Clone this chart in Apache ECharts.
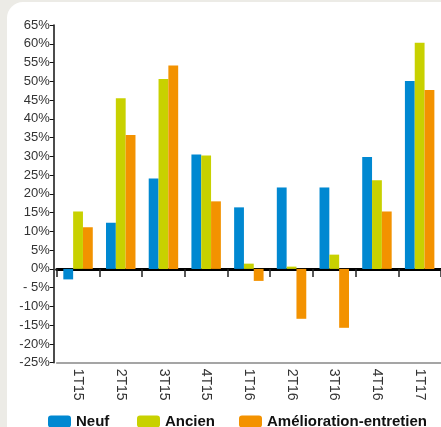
<!DOCTYPE html>
<html>
<head>
<meta charset="utf-8">
<script src="https://cdn.jsdelivr.net/npm/echarts@6/dist/echarts.min.js"></script>
<style>
  html, body { margin: 0; padding: 0; background: #ecebe6; overflow: hidden; }
  .panel { position: absolute; left: 7px; top: 2px; width: 460px; height: 450px; background: #fff; border-radius: 16px; }
  #chart { position: absolute; left: 0; top: 0; width: 441px; height: 427px; }
</style>
</head>
<body>
<div class="panel"></div>
<div id="chart"></div>
<script>
  // quarters
  const categories = ['1T15', '2T15', '3T15', '4T15', '1T16', '2T16', '3T16', '4T16', '1T17']
  const neuf = [-2.8, 12.3, 24.1, 30.5, 16.4, 21.7, 21.7, 29.8, 50.1]
  const ancien = [15.3, 45.5, 50.6, 30.2, 1.4, 0.6, 3.8, 23.6, 60.3]
  const amelioration = [11.1, 35.7, 54.2, 18.0, -3.2, -13.3, -15.7, 15.3, 47.7]
  const seriesNames = ['Neuf', 'Ancien', 'Amélioration-entretien']
  const colors = ['#0088d1', '#c8d100', '#f39200']

  const chart = echarts.init(document.getElementById('chart'))
  const font = '"Liberation Sans", Arial, sans-serif'

  const legendPos = [48, 137, 239]
  const option = {
    animation: false,
    backgroundColor: 'transparent',
    grid: { left: 56.7, top: 25, width: 387, height: 337.7 },
    legend: seriesNames.map((name, i) => ({
      data: [name],
      left: legendPos[i],
      top: 414,
      padding: 0,
      itemWidth: 23,
      itemHeight: 12,
      textStyle: { fontFamily: font, fontWeight: 'bold', fontSize: 15, lineHeight: 14, color: '#111' }
    })),
    xAxis: [
      {
        type: 'category',
        data: categories,
        axisLine: { onZero: true, lineStyle: { color: '#000', width: 3 } },
        axisTick: { show: true, length: 8, lineStyle: { color: '#222', width: 1.5 } },
        axisLabel: { show: false }
      },
      {
        type: 'category',
        data: categories,
        position: 'bottom',
        axisLine: { onZero: false, lineStyle: { color: '#888', width: 1.5 } },
        axisTick: { show: false },
        axisLabel: { rotate: -90, margin: 6, fontFamily: font, fontSize: 14, color: '#333' }
      }
    ],
    yAxis: {
      type: 'value',
      min: -25,
      max: 65,
      interval: 5,
      offset: 3,
      splitLine: { show: false },
      axisLine: { show: true, lineStyle: { color: '#111', width: 1.5 } },
      axisTick: { show: true, length: 4, lineStyle: { color: '#111' } },
      axisLabel: {
        margin: 4,
        fontFamily: font,
        fontSize: 13,
        color: '#333',
        formatter: v => (v === -5 ? '- 5%' : v + '%')
      }
    },
    series: [neuf, ancien, amelioration].map((d, i) => ({
      name: seriesNames[i],
      type: 'bar',
      data: d,
      barGap: '0%',
      barCategoryGap: '31%',
      itemStyle: { color: colors[i] }
    }))
  }
  chart.setOption(option)
</script>
</body>
</html>
